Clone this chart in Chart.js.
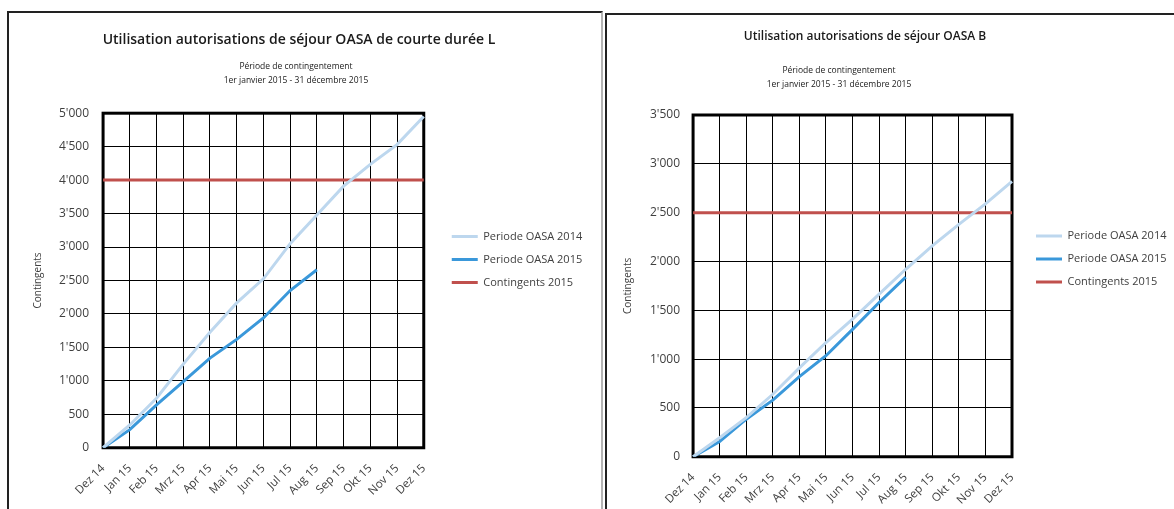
<!DOCTYPE html>
<html>
<head>
<meta charset="utf-8">
<script src="https://cdn.jsdelivr.net/npm/chart.js@4.4.0/dist/chart.umd.min.js"></script>
<style>
  body { margin: 0; background: #fff; width: 1174px; height: 509px; overflow: hidden; position: relative; }
  .panel { position: absolute; background: #fff; }
  #panelL { left: 7px; top: 11px; width: 592px; height: 520px; border-left: 2px solid #222; border-top: 2px solid #222; border-right: 2px solid #b4b4b4; }
  #panelB { left: 605px; top: 13px; width: 600px; height: 520px; border-left: 2px solid #222; border-top: 2px solid #222; }
  canvas { position: absolute; left: 0; top: 0; }
</style>
</head>
<body>
<div class="panel" id="panelL"><div style="position:absolute;left:0;top:0;width:576px;height:499px"><canvas id="chartL"></canvas></div></div>
<div class="panel" id="panelB"><div style="position:absolute;left:0;top:0;width:567px;height:506px"><canvas id="chartB"></canvas></div></div>
<script>
// mois de la période
const months = ["Dez 14", "Jan 15", "Feb 15", "Mrz 15", "Apr 15", "Mai 15", "Jun 15", "Jul 15", "Aug 15", "Sep 15", "Okt 15", "Nov 15", "Dez 15"];

// OASA de courte durée L
const oasaL2014 = [0, 340, 740, 1250, 1725, 2165, 2525, 3050, 3480, 3910, 4235, 4530, 4950];
const oasaL2015 = [0, 270, 640, 990, 1340, 1620, 1940, 2350, 2660];
const contingentsL2015 = [4000, 4000, 4000, 4000, 4000, 4000, 4000, 4000, 4000, 4000, 4000, 4000, 4000];

// OASA B
const oasaB2014 = [0, 195, 400, 640, 910, 1170, 1410, 1665, 1920, 2160, 2380, 2590, 2820];
const oasaB2015 = [0, 155, 385, 580, 820, 1035, 1305, 1580, 1840];
const contingentsB2015 = [2500, 2500, 2500, 2500, 2500, 2500, 2500, 2500, 2500, 2500, 2500, 2500, 2500];

const seriesNames = ["Periode OASA 2014", "Periode OASA 2015", "Contingents 2015"];
const seriesColors = ["#BDD7EE", "#3A98DA", "#C0504D"];
const subtitleLines = ["Période de contingentement", "1er janvier 2015 - 31 décembre 2015"];

const FONT = "'Open Sans', sans-serif";
const GREY = "#404040";

// cadre noir épais autour de la zone de tracé
const plotFrame = {
    id: "plotFrame",
    beforeDatasetsDraw(chart) {
        const a = chart.chartArea;
        const ctx = chart.ctx;
        ctx.save();
        ctx.strokeStyle = "#000";
        ctx.lineWidth = 3;
        ctx.strokeRect(a.left, a.top, a.right - a.left, a.bottom - a.top);
        ctx.restore();
    }
};

// décale titre, sous-titre et légende comme dans Excel
const shiftBoxes = {
    id: "shiftBoxes",
    afterLayout(chart, args, opts) {
        chart.boxes.forEach(function (b) {
            let d = null;
            if (b === chart.legend) d = opts.legend;
            else if (b === chart.titleBlock) d = opts.title;
            else if (b.options && b.options.text !== undefined && b.position === "top") d = opts.subtitle;
            if (!d) return;
            b.left += d[0]; b.right += d[0];
            b.top += d[1]; b.bottom += d[1];
            // la légende garde toute la place jusqu'au bord (pas de texte coupé)
            if (b === chart.legend) b.right = Math.max(b.right, chart.width);
        });
    }
};

function fmt(v) {
    return String(v).replace(/\B(?=(\d{3})+(?!\d))/g, "'");
}

function makeChart(canvasId, cfg) {
    const ctx = document.getElementById(canvasId).getContext("2d");
    const data = [cfg.s2014, cfg.s2015, cfg.contingents];
    new Chart(ctx, {
        type: "line",
        data: {
            labels: months,
            datasets: data.map(function (d, i) {
                return {
                    label: seriesNames[i],
                    data: d,
                    borderColor: seriesColors[i],
                    backgroundColor: seriesColors[i],
                    borderWidth: 3,
                    pointRadius: 0,
                    tension: 0,
                    fill: false
                };
            })
        },
        plugins: [plotFrame, shiftBoxes],
        options: {
            responsive: true,
            maintainAspectRatio: false,
            animation: false,
            layout: { padding: { left: 0, right: cfg.padRight, top: 0, bottom: 0 } },
            scales: {
                x: {
                    grid: { color: "#000", lineWidth: 1, drawTicks: false },
                    border: { display: false },
                    ticks: {
                        color: GREY, font: { family: FONT, size: 11.5 },
                        maxRotation: 45, minRotation: 45, autoSkip: false, padding: 14
                    }
                },
                y: {
                    min: 0,
                    max: cfg.max,
                    grid: { color: "#000", lineWidth: 1, drawTicks: false },
                    border: { display: false },
                    ticks: {
                        stepSize: 500, color: GREY, padding: cfg.tickPad,
                        font: { family: FONT, size: 12 },
                        callback: function (value) { return fmt(value); }
                    },
                    title: {
                        display: true, text: "Contingents", color: GREY,
                        font: { family: FONT, size: 10 },
                        padding: { top: cfg.yTitleTop, bottom: cfg.yTitleBottom }
                    }
                }
            },
            plugins: {
                title: {
                    display: true, text: cfg.title, color: "#1a1a1a",
                    font: { family: FONT, size: cfg.titleSize, weight: "600", lineHeight: 1.2 },
                    padding: cfg.titlePad
                },
                subtitle: {
                    display: true, text: subtitleLines, color: "#1a1a1a",
                    font: { family: FONT, size: 8.5, lineHeight: "13.5px" },
                    padding: cfg.subPad
                },
                legend: {
                    position: "right",
                    labels: {
                        usePointStyle: true, pointStyle: "line", pointStyleWidth: 26,
                        color: GREY, font: { family: FONT, size: 11 }, padding: 12
                    }
                },
                tooltip: { enabled: false },
                shiftBoxes: cfg.shift
            }
        }
    });
}

makeChart("chartL", {
    title: "Utilisation autorisations de séjour OASA de courte durée L", titleSize: 14,
    s2014: oasaL2014, s2015: oasaL2015, contingents: contingentsL2015,
    max: 5000, padRight: 23, tickPad: 14,
    yTitleTop: 23, yTitleBottom: 1,
    titlePad: { top: 18.6, bottom: 11.8 }, subPad: { top: 0, bottom: 26 },
    shift: { title: [13.5, 0], subtitle: [10.5, 0], legend: [16, -3] }
});

makeChart("chartB", {
    title: "Utilisation autorisations de séjour OASA B", titleSize: 12,
    s2014: oasaB2014, s2015: oasaB2015, contingents: contingentsB2015,
    max: 3500, padRight: 27, tickPad: 13,
    yTitleTop: 15, yTitleBottom: 3,
    titlePad: { top: 14.3, bottom: 20.3 }, subPad: { top: 0, bottom: 24 },
    shift: { title: [-12, 0], subtitle: [-38, 0], legend: [12, -9] }
});
</script>
</body>
</html>
